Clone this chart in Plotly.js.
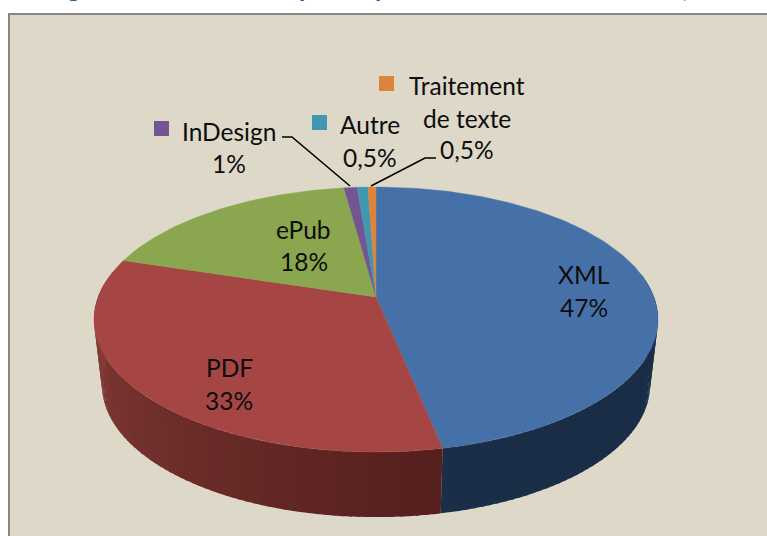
<!DOCTYPE html>
<html><head><meta charset="utf-8">
<script src="https://cdn.plot.ly/plotly-3.0.1.min.js"></script>
<style>html,body{margin:0;padding:0;background:#fff;overflow:hidden}#c{width:767px;height:536px}</style>
</head><body><div id="c"></div>
<script>
// --- data ---
const categories = ["XML", "PDF", "ePub", "InDesign", "Autre", "Traitement de texte"];
const values = [46.8, 33, 18.05, 0.88, 0.73, 0.54];
const topColors = ["#4671A8", "#A54644", "#8AA64F", "#745594", "#4098B0", "#DC843E"];
const wallLight = [[27, 46, 72], [138, 62, 58], [90, 110, 50], [60, 40, 80], [30, 80, 90], [150, 90, 40]];
const wallDark = [[25, 44, 70], [84, 31, 29], [90, 110, 50], [60, 40, 80], [30, 80, 90], [150, 90, 40]];
const labelLines = [
  ["XML", 584, 274], ["47%", 584, 307],
  ["PDF", 229, 367], ["33%", 229, 400],
  ["ePub", 303, 229], ["18%", 304, 261],
  ["InDesign", 229, 131], ["1%", 229, 163],
  ["Autre", 370, 124], ["0,5%", 370, 157],
  ["Traitement", 467, 85], ["de texte", 467, 118], ["0,5%", 467, 149]
];
const keyMarks = [[161.5, 128.5, 3], [319.5, 122.5, 4], [386.5, 83.5, 5]];
const leaders = [
  [[282, 292, 350], [137, 137, 186]],
  [[436, 425, 371], [158, 158, 186]]
];
const titleFragments = [["g", 73], ["p", 306], ["p", 382], ["(", 683]];

// --- projection of the flat pie disc ---
const CX = 376, APEX = 297, K = 0.17, AY = 128.7, BX = 277.9;
const deg = Math.PI / 180;
function topPoint(t) {
  const u = Math.sin(t * deg), v = -Math.cos(t * deg), w = 1 - K * v;
  return [CX + BX * u / w, APEX + AY * v / w];
}
function bottomPoint(t) {
  const p = topPoint(t);
  return [CX + (p[0] - CX) * 274 / 282, 385 + (p[1] - 319.5) * 132 / 132.5];
}
function rgb(c) { return "rgb(" + c.map(Math.round).join(",") + ")"; }

const total = values.reduce((a, b) => a + b, 0);
const spans = [];
let acc = 0;
values.forEach(v => { spans.push([acc / total * 360, (acc + v) / total * 360]); acc += v; });

const traces = [];
// side wall, drawn as narrow overlapping strips so no seams show
const WALL_A = 80, WALL_B = 280;
spans.forEach((s, i) => {
  const a = Math.max(s[0], WALL_A), b = Math.min(s[1], WALL_B);
  if (b <= a) return;
  const n = Math.max(1, Math.ceil((b - a) / 1.5));
  for (let j = 0; j < n; j++) {
    const t0 = a + (b - a) * j / n, t1 = a + (b - a) * (j + 1) / n;
    const tA = j === 0 ? t0 : t0 - 0.6;
    const f = (j + 0.5) / n; // 0 at the start of the slice's wall, 1 at its clockwise end
    const col = rgb(wallDark[i].map((c, m) => c + (wallLight[i][m] - c) * f));
    const pts = [];
    for (let q = 0; q <= 3; q++) pts.push(topPoint(tA + (t1 - tA) * q / 3));
    for (let q = 3; q >= 0; q--) pts.push(bottomPoint(tA + (t1 - tA) * q / 3));
    pts.push(pts[0]);
    traces.push({
      type: "scatter", mode: "none", fill: "toself", fillcolor: col,
      x: pts.map(q => q[0]), y: pts.map(q => q[1]),
      hoverinfo: "skip", showlegend: false
    });
  }
});
// top face, one sector per category
spans.forEach((s, i) => {
  const n = Math.max(2, Math.ceil((s[1] - s[0]) / 1));
  const xs = [CX], ys = [APEX];
  for (let j = 0; j <= n; j++) {
    const p = topPoint(s[0] + (s[1] - s[0]) * j / n);
    xs.push(p[0]); ys.push(p[1]);
  }
  xs.push(CX); ys.push(APEX);
  traces.push({
    type: "scatter", mode: "lines", fill: "toself", fillcolor: topColors[i], name: categories[i],
    x: xs, y: ys, line: { color: topColors[i], width: 0.4 }, hoverinfo: "skip", showlegend: false
  });
});
// leader lines
leaders.forEach(l => traces.push({
  type: "scatter", mode: "lines", x: l[0], y: l[1],
  line: { color: "#000", width: 1.6 }, hoverinfo: "skip", showlegend: false
}));
// legend keys
traces.push({
  type: "scatter", mode: "markers",
  x: keyMarks.map(k => k[0]), y: keyMarks.map(k => k[1]),
  marker: { symbol: "square", size: 15, color: keyMarks.map(k => topColors[k[2]]), line: { width: 0 } },
  hoverinfo: "skip", showlegend: false
});

const annotations = labelLines.map(l => ({
  text: l[0], x: l[1], y: l[2], xref: "x", yref: "y", showarrow: false,
  xanchor: "center", yanchor: "middle",
  font: { family: "Lato, sans-serif", size: 24.5, color: "#0d0d0d" }
}));
titleFragments.forEach(f => annotations.push({
  text: "<b>" + f[0] + "</b>", x: f[1], y: 1 + 13 / 536, xref: "x", yref: "paper", showarrow: false,
  xanchor: "center", yanchor: "middle",
  font: { family: "Lato, sans-serif", size: 25, color: "#2F5D9B" }
}));

Plotly.newPlot("c", traces, {
  width: 767, height: 536, margin: { l: 0, r: 0, t: 0, b: 0 },
  paper_bgcolor: "#fff", plot_bgcolor: "#fff",
  xaxis: { range: [0, 767], visible: false, fixedrange: true },
  yaxis: { range: [536, 0], visible: false, fixedrange: true },
  shapes: [{
    type: "rect", layer: "below", xref: "x", yref: "y",
    x0: 9, y0: 14, x1: 790, y1: 560,
    fillcolor: "#DDD8C8", line: { color: "#868686", width: 2 }
  }],
  annotations: annotations
}, { displayModeBar: false, staticPlot: true });
</script></body></html>
